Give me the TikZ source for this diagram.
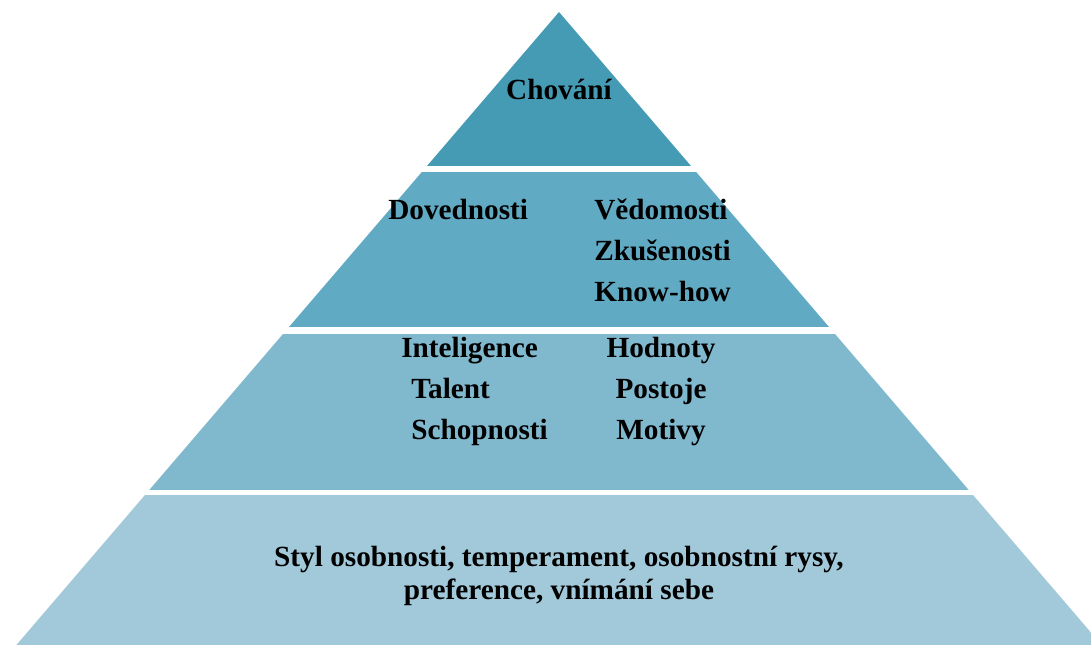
\documentclass[tikz,border=0pt]{standalone}
\usepackage{fontspec}
\setmainfont{Liberation Serif}
\definecolor{tierone}{HTML}{459BB4}
\definecolor{tiertwo}{HTML}{60AAC3}
\definecolor{tierthree}{HTML}{80B8CE}
\definecolor{tierfour}{HTML}{A2C9DA}
\tikzset{
  label/.style = {inner sep=0pt, font=\fontsize{20.8}{24}\selectfont\bfseries},
}
\begin{document}
\begin{tikzpicture}[x = 0.025cm, y = 0.025cm]
        \useasboundingbox (0,0) rectangle (1091,645);
        \coordinate (apex)      at ( 559, 633);
        \coordinate (baseleft)  at (16.4,   0);
        \coordinate (baseright) at (1101.6, 0);
        \begin{scope}
          \clip (apex) -- (baseleft) -- (baseright) -- cycle;
          \fill[tierone]   (0, 479) rectangle (1091, 633);
          \fill[tiertwo]   (0, 318) rectangle (1091, 473);
          \fill[tierthree] (0, 155) rectangle (1091, 311);
          \fill[tierfour]  (0,   0) rectangle (1091, 150);
        \end{scope}
        \node[label, anchor=base]      (chovani)     at (559, 545) {Chování};
        \node[label, anchor=base west] (dovednosti)  at (388, 425) {Dovednosti};
        \node[label, anchor=base west] (vedomosti)   at (594, 425) {Vědomosti};
        \node[label, anchor=base west] (zkusenosti)  at (594, 384) {Zkušenosti};
        \node[label, anchor=base west] (knowhow)     at (594, 343) {Know-how};
        \node[label, anchor=base west] (inteligence) at (401, 287) {Inteligence};
        \node[label, anchor=base west] (talent)      at (411, 246) {Talent};
        \node[label, anchor=base west] (schopnosti)  at (411, 205) {Schopnosti};
        \node[label, anchor=base]      (hodnoty)     at (661, 287) {Hodnoty};
        \node[label, anchor=base]      (postoje)     at (661, 246) {Postoje};
        \node[label, anchor=base]      (motivy)      at (661, 205) {Motivy};
        \node[label, anchor=base]      (styl)        at (559,  79) {Styl osobnosti, temperament, osobnostní rysy,};
        \node[label, anchor=base]      (preference)  at (559,  46) {preference, vnímání sebe};
      \end{tikzpicture}
\end{document}
